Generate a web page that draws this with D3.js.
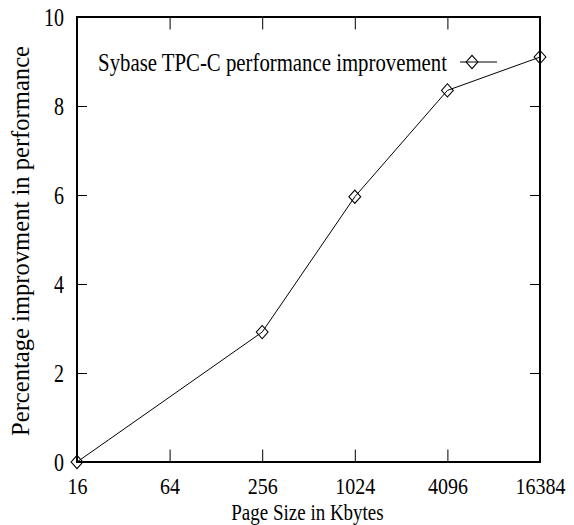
<!DOCTYPE html>
<html>
<head>
<meta charset="utf-8">
<script src="https://cdn.jsdelivr.net/npm/d3@7"></script>
<style>
  body { margin: 0; background: #fff; }
  text { font-family: "Liberation Serif", "Times New Roman", serif; fill: #000; }
</style>
</head>
<body>
<div id="chart"></div>
<script>
let pageSizes = [16, 256, 1024, 4096, 16384];
let improvement = [0, 2.92, 5.96, 8.35, 9.1];
let xTicks = [16, 64, 256, 1024, 4096, 16384];
let yTicks = [0, 2, 4, 6, 8, 10];
let seriesName = "Sybase TPC-C performance improvement";

let margin = {top: 17, right: 34, bottom: 63, left: 77},
    width = 574 - margin.left - margin.right,
    height = 525 - margin.top - margin.bottom;

let svg = d3.select("#chart")
    .append("svg")
        .attr("width", 574)
        .attr("height", 525)
    .append("g")
        .attr("transform", `translate(${margin.left},${margin.top})`);

let x = d3.scaleLog().base(2)
    .domain([16, 16384])
    .range([0, width]);

let y = d3.scaleLinear()
    .domain([0, 10])
    .range([height, 0]);

let xTickLen = 12.5, yTickLen = 10;

// the reference's horizontal text is a bit taller than normal
function tallText(sel, tx, ty, k) {
    sel.attr("x", 0).attr("y", 0).attr("dy", null)
        .attr("transform", `translate(${tx},${ty}) scale(1,${k})`);
}

function styleAxis(g) {
    g.select(".domain").remove();
    g.selectAll(".tick line").attr("stroke", "#000").attr("stroke-width", 1);
    g.selectAll(".tick text").style("font-size", "20px").attr("fill", "#000");
}

svg.append("g")
    .attr("transform", `translate(0,${height})`)
    .call(d3.axisBottom(x).tickValues(xTicks).tickFormat(d => d)
        .tickSizeInner(-xTickLen).tickSizeOuter(0))
    .call(styleAxis)
    .call(g => g.selectAll(".tick text").each(function() { tallText(d3.select(this), 0, 32, 1.2); }));

svg.append("g")
    .call(d3.axisTop(x).tickValues(xTicks).tickFormat("")
        .tickSizeInner(-xTickLen).tickSizeOuter(0))
    .call(styleAxis);

svg.append("g")
    .call(d3.axisLeft(y).tickValues(yTicks).tickFormat(d => d)
        .tickSizeInner(-yTickLen).tickSizeOuter(0))
    .call(styleAxis)
    .call(g => g.selectAll(".tick text").each(function() { tallText(d3.select(this), -13, 8.5, 1.25); }));

svg.append("g")
    .attr("transform", `translate(${width},0)`)
    .call(d3.axisRight(y).tickValues(yTicks).tickFormat("")
        .tickSizeInner(-yTickLen).tickSizeOuter(0))
    .call(styleAxis);

svg.append("rect")
    .attr("width", width)
    .attr("height", height)
    .attr("fill", "none")
    .attr("stroke", "#000")
    .attr("stroke-width", 2);

let data = pageSizes.map((d, i) => ({size: d, value: improvement[i]}));

svg.append("path")
    .datum(data)
    .attr("fill", "none")
    .attr("stroke", "#000")
    .attr("stroke-width", 1)
    .attr("d", d3.line().x(d => x(d.size)).y(d => y(d.value)));

let diamond = d3.symbol().type(d3.symbolSquare).size(70);

svg.selectAll("points")
    .data(data)
    .join("path")
    .attr("d", diamond)
    .attr("transform", d => `translate(${x(d.size)},${y(d.value)}) scale(1,1.12) rotate(45)`)
    .attr("fill", "none")
    .attr("stroke", "#000")
    .attr("stroke-width", 1);

// legend
let legendY = 62 - margin.top;
svg.append("text")
    .attr("text-anchor", "end")
    .style("font-size", "20.8px")
    .text(seriesName)
    .call(t => tallText(t, 447 - margin.left, legendY + 8.5, 1.25));
svg.append("line")
    .attr("x1", 460 - margin.left).attr("x2", 497 - margin.left)
    .attr("y1", legendY).attr("y2", legendY)
    .attr("stroke", "#000");
svg.append("path")
    .attr("d", diamond)
    .attr("transform", `translate(${472 - margin.left},${legendY}) scale(1,1.12) rotate(45)`)
    .attr("fill", "none")
    .attr("stroke", "#000");

// axis titles
svg.append("text")
    .attr("text-anchor", "middle")
    .style("font-size", "19px")
    .text("Page Size in Kbytes")
    .call(t => tallText(t, width / 2 - 1, 520 - margin.top, 1.2));

svg.append("text")
    .attr("transform", `translate(${28.5 - margin.left},${241 - margin.top}) rotate(-90)`)
    .attr("text-anchor", "middle")
    .style("font-size", "24.6px")
    .text("Percentage improvment in performance");
</script>
</body>
</html>
